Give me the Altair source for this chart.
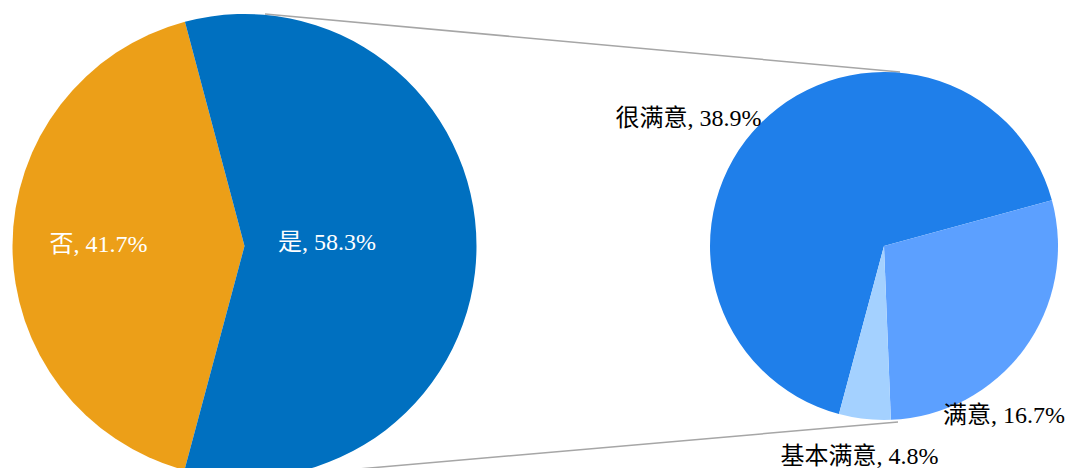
import math
import altair as alt
import pandas as pd

# Main pie
main_cats = ["否", "是"]
main_vals = [41.7, 58.3]
main_colors = ["#EC9F18", "#0070C0"]

# Breakdown of "是" (drawn slice sizes; label text as printed)
sub_cats = ["很满意", "满意", "基本满意"]
sub_vals = [38.9, 16.7, 2.8]
sub_texts = ["38.9%", "16.7%", "4.8%"]
sub_colors = ["#1F7FEA", "#5CA0FF", "#A4D1FF"]

main_df = pd.DataFrame({"cat": main_cats, "v": main_vals, "o": list(range(len(main_cats)))})
sub_df = pd.DataFrame({"cat": sub_cats, "v": sub_vals, "o": list(range(len(sub_cats)))})

START = math.radians(195)
theta_range = [START, START + 2 * math.pi]

FONT = "Liberation Serif, Noto Sans CJK SC"

left = alt.Chart(main_df).mark_arc(x=236.5, y=238, radius=232).encode(
    theta=alt.Theta("v:Q", stack=True, scale=alt.Scale(range=theta_range)),
    order=alt.Order("o:Q"),
    color=alt.Color("cat:N", scale=alt.Scale(domain=main_cats, range=main_colors), legend=None),
)

right = alt.Chart(sub_df).mark_arc(x=876, y=238, radius=174).encode(
    theta=alt.Theta("v:Q", stack=True, scale=alt.Scale(range=theta_range)),
    order=alt.Order("o:Q"),
    color=alt.Color("cat:N", scale=alt.Scale(domain=sub_cats, range=sub_colors), legend=None),
)

line_df = pd.DataFrame({"k": [0]})
top_line = alt.Chart(line_df).mark_rule(color="#A6A6A6", strokeWidth=1.5).encode(
    x=alt.value(257), y=alt.value(6), x2=alt.value(892), y2=alt.value(64)
)
bottom_line = alt.Chart(line_df).mark_rule(color="#A6A6A6", strokeWidth=1.5).encode(
    x=alt.value(247), y=alt.value(470), x2=alt.value(890), y2=alt.value(414)
)

def label(text, x, y, color, align="center"):
    df = pd.DataFrame({"t": [text]})
    return alt.Chart(df).mark_text(
        font=FONT, fontSize=24, color=color, align=align, baseline="middle"
    ).encode(text="t:N", x=alt.value(x), y=alt.value(y))

labels = [
    label(f"{main_cats[0]}, {main_vals[0]}%", 90.5, 237, "white"),
    label(f"{main_cats[1]}, {main_vals[1]}%", 319, 235, "white"),
    label(f"{sub_cats[0]}, {sub_texts[0]}", 680.5, 111, "black"),
    label(f"{sub_cats[1]}, {sub_texts[1]}", 1057, 408, "black", align="right"),
    label(f"{sub_cats[2]}, {sub_texts[2]}", 851.5, 449, "black"),
]

chart = alt.layer(top_line, bottom_line, left, right, *labels).resolve_scale(
    theta="independent", color="independent"
).properties(
    width=1058, height=460, padding=0, autosize=alt.AutoSizeParams(type="none")
).configure_view(stroke=None)

chart.save("out.html", embed_options={"renderer": "svg", "actions": False})
